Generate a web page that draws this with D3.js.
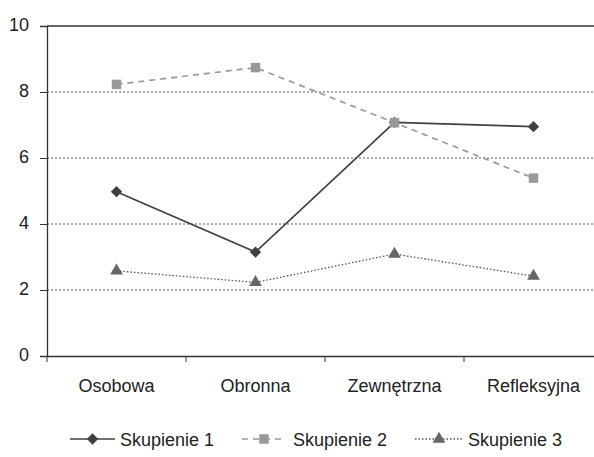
<!DOCTYPE html>
<html>
<head>
<meta charset="utf-8">
<script src="https://cdn.jsdelivr.net/npm/d3@7"></script>
<style>
  body { margin: 0; background: #fff; }
  svg { display: block; font-family: "Liberation Sans", Arial, sans-serif; }
</style>
</head>
<body>
<svg id="chart" width="594" height="457"></svg>
<script>
// data
const categories = ["Osobowa", "Obronna", "Zewnętrzna", "Refleksyjna"];
const seriesNames = ["Skupienie 1", "Skupienie 2", "Skupienie 3"];
const skupienie1 = [4.98, 3.15, 7.08, 6.95];
const skupienie2 = [8.23, 8.74, 7.07, 5.39];
const skupienie3 = [2.58, 2.23, 3.09, 2.42];
const yTicks = [0, 2, 4, 6, 8, 10];

// diamond wider than d3's default: a square turned 45 degrees
const diamond = {
  draw(ctx, size) {
    const r = Math.sqrt(size / 2);
    ctx.moveTo(0, -r);
    ctx.lineTo(r, 0);
    ctx.lineTo(0, r);
    ctx.lineTo(-r, 0);
    ctx.closePath();
  },
};

const series = [
  { name: seriesNames[0], values: skupienie1, stroke: "#404040", width: 1.7, dash: null, symbol: diamond, fill: "#404040", size: 64 },
  { name: seriesNames[1], values: skupienie2, stroke: "#999", width: 1.7, dash: "6,5", symbol: d3.symbolSquare, fill: "#999", size: 90 },
  { name: seriesNames[2], values: skupienie3, stroke: "#555", width: 1.3, dash: "1.5,2", symbol: d3.symbolTriangle, fill: "#666", size: 70 },
];

const svg = d3.select("#chart");
const margin = { left: 47, top: 26, right: -9, bottom: 101 };
const width = 594 - margin.left - margin.right;
const height = 457 - margin.top - margin.bottom;

const x = d3.scaleBand().domain(categories).range([0, width]);
const y = d3.scaleLinear().domain([0, 10]).range([height, 0]);

const g = svg.append("g").attr("transform", `translate(${margin.left},${margin.top})`);

// gridlines
g.selectAll("line.grid")
  .data(yTicks.filter((t) => t > 0 && t < 10))
  .join("line")
  .attr("class", "grid")
  .attr("x1", 0).attr("x2", width)
  .attr("y1", (d) => y(d)).attr("y2", (d) => y(d))
  .attr("stroke", "#555")
  .attr("stroke-width", 1)
  .attr("stroke-dasharray", "2,2");

// top border
g.append("line")
  .attr("x1", 0).attr("x2", width)
  .attr("y1", y(10)).attr("y2", y(10))
  .attr("stroke", "#333").attr("stroke-width", 1.3);

// Y axis
const yAxis = g.append("g")
  .call(d3.axisLeft(y).tickValues(yTicks).tickSize(7).tickPadding(11));
yAxis.select(".domain").attr("stroke", "#333").attr("stroke-width", 1.3);
yAxis.selectAll(".tick line").attr("stroke", "#333");
yAxis.selectAll("text").style("font-size", "18px").attr("fill", "#222").attr("dy", "0.26em");

// X axis
const xAxis = g.append("g")
  .attr("transform", `translate(0,${height})`)
  .call(d3.axisBottom(x).tickSize(0).tickPadding(23));
xAxis.select(".domain").attr("stroke", "#333").attr("stroke-width", 1.3);
xAxis.selectAll("text").style("font-size", "18px").attr("fill", "#222");
// tick marks between categories
g.selectAll("line.xtick")
  .data(categories)
  .join("line")
  .attr("class", "xtick")
  .attr("x1", (d) => x(d)).attr("x2", (d) => x(d))
  .attr("y1", height).attr("y2", height + 6)
  .attr("stroke", "#333");

// lines & markers
const cx = (i) => x(categories[i]) + x.bandwidth() / 2;
const line = d3.line().x((d, i) => cx(i)).y((d) => y(d));

series.forEach((s) => {
  g.append("path")
    .datum(s.values)
    .attr("d", line)
    .attr("fill", "none")
    .attr("stroke", s.stroke)
    .attr("stroke-width", s.width)
    .attr("stroke-dasharray", s.dash);
});
series.forEach((s) => {
  g.selectAll(null)
    .data(s.values)
    .join("path")
    .attr("transform", (d, i) => `translate(${cx(i)},${y(d)})`)
    .attr("d", d3.symbol().type(s.symbol).size(s.size))
    .attr("fill", s.fill);
});

// legend
const legendItems = [
  { x0: 70, x1: 115, text: 120 },
  { x0: 242, x1: 286, text: 293 },
  { x0: 415, x1: 463, text: 468 },
];
const legY = 439;
series.forEach((s, i) => {
  const L = legendItems[i];
  const lg = svg.append("g");
  lg.append("line")
    .attr("x1", L.x0).attr("x2", L.x1)
    .attr("y1", legY).attr("y2", legY)
    .attr("stroke", s.stroke)
    .attr("stroke-width", s.width)
    .attr("stroke-dasharray", s.dash);
  lg.append("path")
    .attr("transform", `translate(${(L.x0 + L.x1) / 2},${legY})`)
    .attr("d", d3.symbol().type(s.symbol).size(s.size))
    .attr("fill", s.fill);
  lg.append("text")
    .attr("x", L.text).attr("y", legY + 6.5)
    .style("font-size", "18px")
    .attr("fill", "#222")
    .text(s.name);
});
</script>
</body>
</html>
